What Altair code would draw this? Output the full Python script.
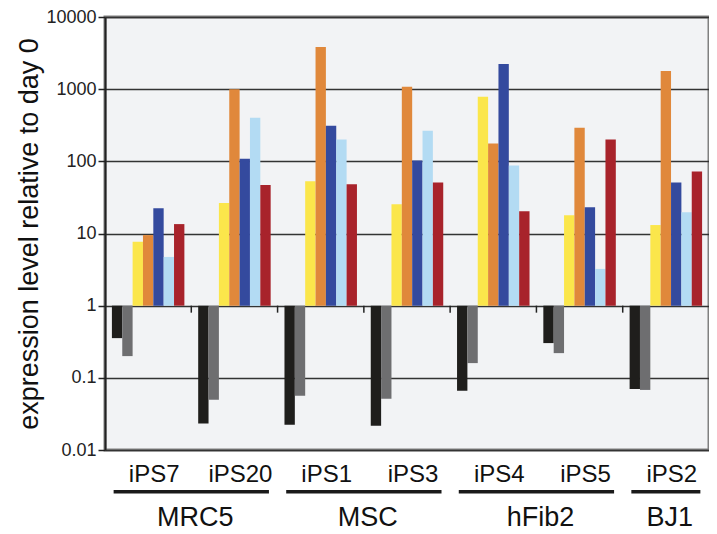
import altair as alt
import pandas as pd

FONT = "Liberation Sans"

samples = ["iPS7", "iPS20", "iPS1", "iPS3", "iPS4", "iPS5", "iPS2"]
series = ["s1", "s2", "s3", "s4", "s5", "s6", "s7"]
colors = ["#1f1e1c", "#6e6e70", "#fbe64b", "#e0883b", "#344a9e", "#b3dbf3", "#a8232b"]

s1 = [0.355, 0.0232, 0.0224, 0.0217, 0.066, 0.303, 0.070]
s2 = [0.20, 0.0496, 0.0563, 0.0512, 0.16, 0.22, 0.068]
s3 = [7.7, 26.5, 52.8, 25.5, 783, 17.9, 13.1]
s4 = [9.5, 1000, 3830, 1076, 176, 293, 1787]
s5 = [22.4, 109, 312, 103, 2233, 23.1, 51]
s6 = [4.73, 402, 200, 266, 87.7, 3.23, 19.7]
s7 = [13.5, 47, 48, 51, 20.4, 200, 72.5]

origins = ["MRC5", "MSC", "hFib2", "BJ1"]
origin_start = [0, 2, 4, 6]
origin_end = [2, 4, 6, 7]

y_ticks = [0.01, 0.1, 1, 10, 100, 1000, 10000]

series_values = [s1, s2, s3, s4, s5, s6, s7]
rows = []
for name, vals in zip(series, series_values):
    for smp, v in zip(samples, vals):
        rows.append({"sample": smp, "series": name, "value": v})
df = pd.DataFrame(rows)

df_samples = pd.DataFrame({"sample": samples, "pos": [i + 0.5 for i in range(len(samples))]})
df_origins = pd.DataFrame({
    "origin": origins,
    "x1": [a + 0.1 for a in origin_start],
    "x2": [b - 0.1 for b in origin_end],
    "mid": [(a + b) / 2 for a, b in zip(origin_start, origin_end)],
})
df_div = pd.DataFrame({"b": list(range(1, len(samples)))})

W, H = 604, 433
xlin = alt.Scale(domain=[0, len(samples)], nice=False, zero=False)

bars = alt.Chart(df).mark_bar().encode(
    x=alt.X("sample:N", sort=samples, axis=None,
            scale=alt.Scale(paddingInner=0.16, paddingOuter=0.08)),
    xOffset=alt.XOffset("series:N", sort=series,
                        scale=alt.Scale(paddingInner=0, paddingOuter=0)),
    y=alt.Y("value:Q", title="expression level relative to day 0",
            scale=alt.Scale(type="log", domain=[0.01, 10000], nice=False),
            axis=alt.Axis(values=y_ticks,
                          labelExpr="datum.value < 1 ? format(datum.value, '.2~f') : format(datum.value, 'd')")),
    y2=alt.Y2Datum(1),
    color=alt.Color("series:N", scale=alt.Scale(domain=series, range=colors), legend=None),
)

dividers = alt.Chart(df_div).mark_rule(color="#222222", strokeWidth=1.5).encode(
    x=alt.X("b:Q", scale=xlin, axis=None),
    y=alt.YDatum(1),
    y2=alt.Y2Datum(0.8),
)

sample_text = alt.Chart(df_samples).mark_text(
    font=FONT, fontSize=24, baseline="alphabetic", dx=6, color="#111111"
).encode(
    x=alt.X("pos:Q", scale=xlin, axis=None),
    y=alt.value(H + 32),
    text="sample:N",
)

underline = alt.Chart(df_origins).mark_rule(color="#1a1a1a", strokeWidth=3.5).encode(
    x=alt.X("x1:Q", scale=xlin, axis=None),
    x2="x2:Q",
    y=alt.value(H + 41.7),
)

origin_text = alt.Chart(df_origins).mark_text(
    font=FONT, fontSize=27, baseline="alphabetic", dx=4, color="#111111"
).encode(
    x=alt.X("mid:Q", scale=xlin, axis=None),
    y=alt.value(H + 76),
    text="origin:N",
)

chart = alt.layer(bars, dividers, sample_text, underline, origin_text).resolve_scale(
    x="independent"
).properties(
    width=W, height=H,
    autosize=alt.AutoSizeParams(type="none"),
    padding={"left": 97, "top": 9, "right": 0, "bottom": 84},
).configure_view(
    fill="#f2f3f5", stroke="#808080", strokeWidth=3
).configure_axisY(
    domainColor="#222222", domainWidth=2,
    tickColor="#222222", tickSize=7, tickWidth=1.5,
    gridColor="#333333", gridWidth=1.3,
    labelFont=FONT, labelFontSize=18, labelColor="#222222", labelPadding=2,
    titleFont=FONT, titleFontSize=27, titleFontWeight="normal", titleColor="#111111",
    titlePadding=2,
)

chart.save("out.html", embed_options={"renderer": "svg", "actions": False})
